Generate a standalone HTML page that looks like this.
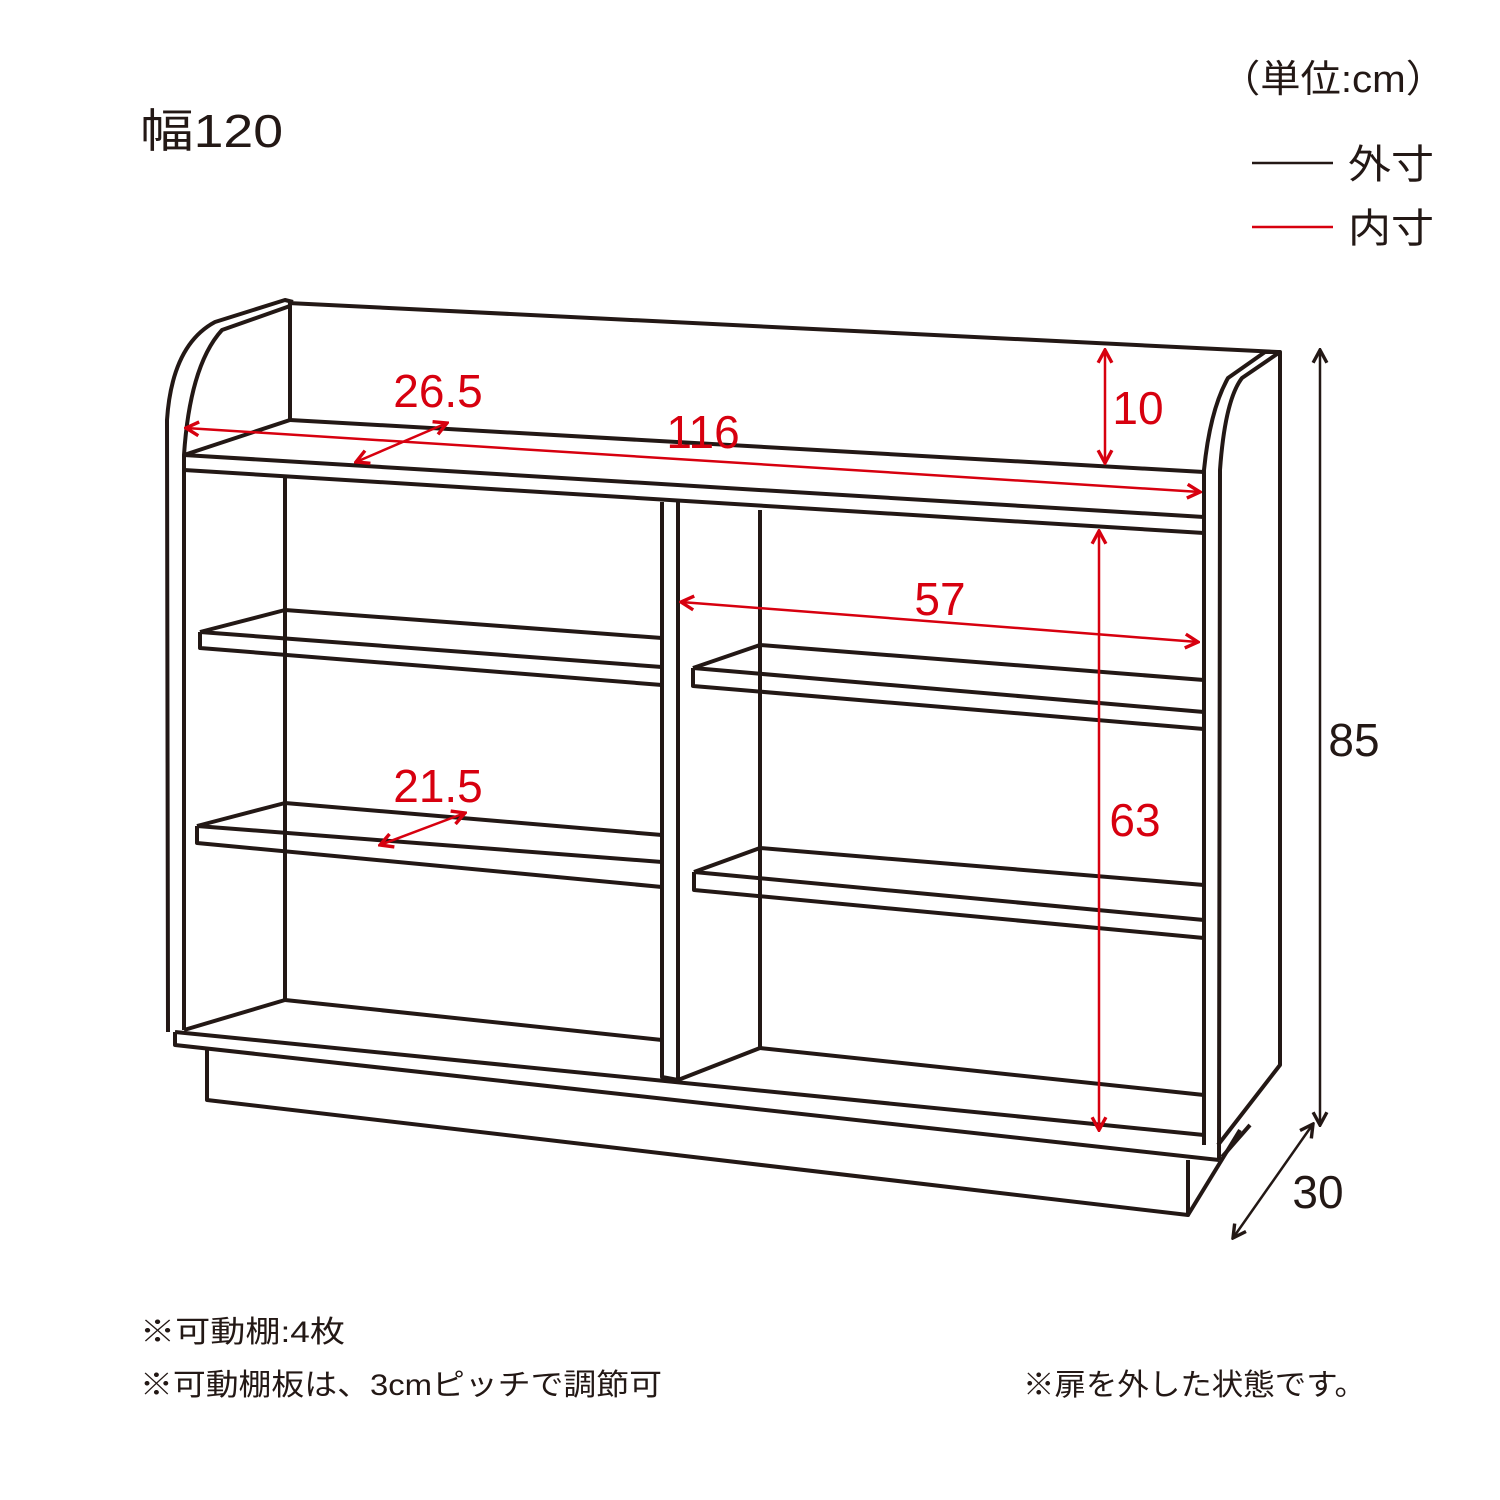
<!DOCTYPE html>
<html><head><meta charset="utf-8"><style>
html,body{margin:0;padding:0;background:#fff;}
svg{display:block;}
text{font-family:"Liberation Sans","Noto Sans CJK JP",sans-serif;}
</style></head><body>
<svg width="1500" height="1500" viewBox="0 0 1500 1500" xmlns="http://www.w3.org/2000/svg">
<defs>
<marker id="ar" viewBox="0 0 16 16" refX="14" refY="8" markerWidth="17" markerHeight="17" markerUnits="userSpaceOnUse" orient="auto-start-reverse"><path d="M2,1.5 L14,8 L2,14.5" fill="none" stroke="#d7000f" stroke-width="3.2"/></marker>
<marker id="ab" viewBox="0 0 16 16" refX="14" refY="8" markerWidth="17" markerHeight="17" markerUnits="userSpaceOnUse" orient="auto-start-reverse"><path d="M2,1.5 L14,8 L2,14.5" fill="none" stroke="#231815" stroke-width="3.2"/></marker>
</defs>
<g fill="none" stroke="#231815" stroke-width="4" stroke-linejoin="round">
<path d="M288,303 L1278,352"/>
<path d="M290,305 L290,420"/>
<path d="M293,302 L285,300 L215,322 Q172,345 167,420 L168,1032"/>
<path d="M290,306 L222,330 Q190,365 184,455 L184,1030"/>
<path d="M1278,352 L1280,352 L1280,1065 L1218,1145"/>
<path d="M1275,352 L1265,352 L1228,378 Q1210,410 1204,470 L1204,1145"/>
<path d="M1280,352 L1242,378 Q1225,400 1220,470 L1219,1160"/>
<path d="M290,420 L1204,472"/>
<path d="M184,455 L290,420"/>
<path d="M184,455 L1204,517"/>
<path d="M184,470 L1204,533"/>
<path d="M285,478 L285,1000"/>
<path d="M760,510 L760,1050"/>
<path d="M662,502 L662,1077 L678,1080 L678,502"/>
<path d="M678,1080 L760,1048"/>
<path d="M285,610 L662,638"/><path d="M200,632 L285,610"/><path d="M200,632 L662,667"/><path d="M200,632 L200,648 L662,685"/>
<path d="M285,803 L662,835"/><path d="M197,826 L285,803"/><path d="M197,826 L662,862"/><path d="M197,826 L197,843 L662,887"/>
<path d="M760,645 L1204,680"/><path d="M693,668 L760,645"/><path d="M693,668 L1204,712"/><path d="M693,668 L693,686 L1204,729"/>
<path d="M760,848 L1204,885"/><path d="M694,872 L760,848"/><path d="M694,872 L1204,920"/><path d="M694,872 L694,890 L1204,938"/>
<path d="M285,1000 L184,1030"/>
<path d="M285,1000 L662,1040"/>
<path d="M760,1048 L1204,1095"/>
<path d="M175,1032 L1204,1135"/>
<path d="M175,1032 L175,1045 L1219,1160"/>
<path d="M207,1050 L207,1100 L1188,1215 L1188,1160"/>
<path d="M1188,1215 L1240,1130"/>
<path d="M1222,1157 L1250,1125"/>
</g>
<g stroke="#d7000f" stroke-width="2.5" fill="none" marker-start="url(#ar)" marker-end="url(#ar)">
<path d="M186,428 L1200,492"/>
<path d="M356,462 L447,423"/>
<path d="M1105,350 L1105,463"/>
<path d="M681,602 L1198,642"/>
<path d="M1099,531 L1099,1130"/>
<path d="M380,845 L465,813"/>
</g>
<g stroke="#231815" stroke-width="2.5" fill="none" marker-start="url(#ab)" marker-end="url(#ab)">
<path d="M1320,350 L1320,1125"/>
<path d="M1313,1124 L1233,1238"/>
</g>
<g fill="#d7000f" font-size="46" text-anchor="middle">
<text x="438" y="407">26.5</text>
<text x="703" y="448">116</text>
<text x="1138" y="424">10</text>
<text x="940" y="615">57</text>
<text x="1135" y="836">63</text>
<text x="438" y="802">21.5</text>
</g>
<g fill="#231815" font-size="46" text-anchor="middle">
<text x="1354" y="756">85</text>
<text x="1318" y="1208">30</text>
</g>
<g fill="#231815">
<text x="140" y="147" font-size="46" textLength="143" lengthAdjust="spacingAndGlyphs">幅120</text>
<text x="1220" y="92" font-size="38" textLength="226" lengthAdjust="spacingAndGlyphs">（単位:cm）</text>
<text x="1348" y="178" font-size="40" textLength="86" lengthAdjust="spacingAndGlyphs">外寸</text>
<text x="1348" y="242" font-size="40" textLength="86" lengthAdjust="spacingAndGlyphs">内寸</text>
<text x="140" y="1342" font-size="30" textLength="205" lengthAdjust="spacingAndGlyphs">※可動棚:4枚</text>
<text x="140" y="1395" font-size="30" textLength="522" lengthAdjust="spacingAndGlyphs">※可動棚板は、3cmピッチで調節可</text>
<text x="1023" y="1395" font-size="30" textLength="343" lengthAdjust="spacingAndGlyphs">※扉を外した状態です。</text>
</g>
<line x1="1252" y1="163" x2="1333" y2="163" stroke="#231815" stroke-width="2.5"/>
<line x1="1252" y1="227" x2="1333" y2="227" stroke="#d7000f" stroke-width="2.5"/>
</svg>
</body></html>
